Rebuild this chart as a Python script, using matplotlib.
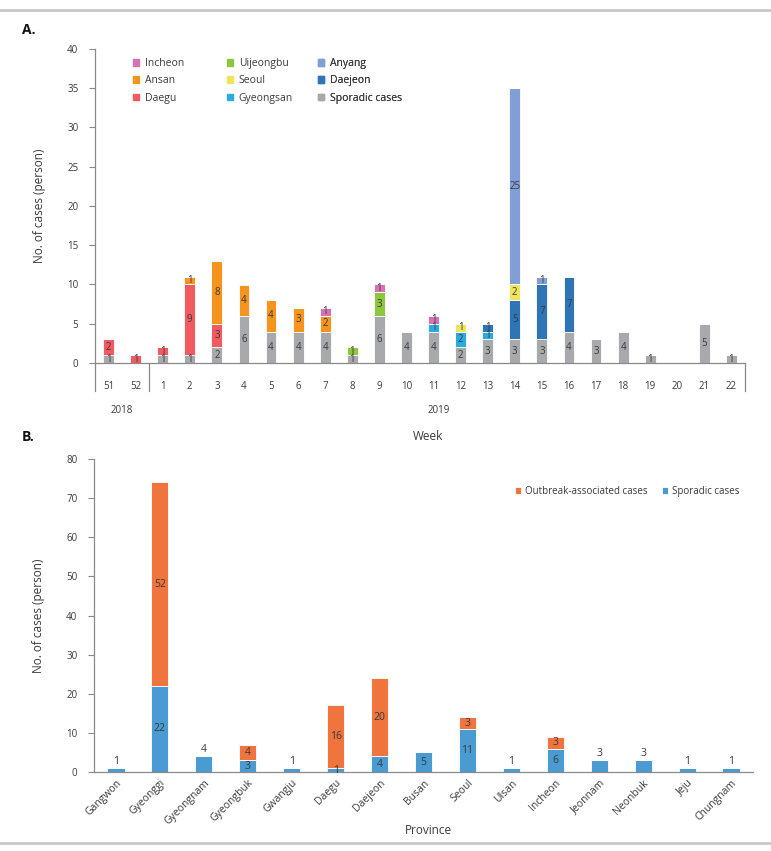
import matplotlib
matplotlib.use("Agg")
import matplotlib.pyplot as plt
import matplotlib.patches as mpatches
import matplotlib.transforms as mtransforms
from matplotlib.lines import Line2D
import numpy as np

plt.rcParams['font.family'] = ['Open Sans', 'DejaVu Sans']

# ---- panel A data: cases per week by outbreak cluster ----
weeks = ["51", "52"] + [str(i) for i in range(1, 23)]
sporadic = [1, 0, 1, 1, 2, 6, 4, 4, 4, 1, 6, 4, 4, 2, 3, 3, 3, 4, 3, 4, 1, 0, 5, 1]
daegu = [2, 1, 1, 9, 3, 0, 0, 0, 0, 0, 0, 0, 0, 0, 0, 0, 0, 0, 0, 0, 0, 0, 0, 0]
ansan = [0, 0, 0, 1, 8, 4, 4, 3, 2, 0, 0, 0, 0, 0, 0, 0, 0, 0, 0, 0, 0, 0, 0, 0]
uijeongbu = [0, 0, 0, 0, 0, 0, 0, 0, 0, 1, 3, 0, 0, 0, 0, 0, 0, 0, 0, 0, 0, 0, 0, 0]
gyeongsan = [0, 0, 0, 0, 0, 0, 0, 0, 0, 0, 0, 0, 1, 2, 1, 0, 0, 0, 0, 0, 0, 0, 0, 0]
daejeon = [0, 0, 0, 0, 0, 0, 0, 0, 0, 0, 0, 0, 0, 0, 1, 5, 7, 7, 0, 0, 0, 0, 0, 0]
seoul = [0, 0, 0, 0, 0, 0, 0, 0, 0, 0, 0, 0, 0, 1, 0, 2, 0, 0, 0, 0, 0, 0, 0, 0]
anyang = [0, 0, 0, 0, 0, 0, 0, 0, 0, 0, 0, 0, 0, 0, 0, 25, 1, 0, 0, 0, 0, 0, 0, 0]
incheon = [0, 0, 0, 0, 0, 0, 0, 0, 1, 0, 1, 0, 1, 0, 0, 0, 0, 0, 0, 0, 0, 0, 0, 0]

series_a = [
    ("Sporadic cases", sporadic, "#a7a9ac"),
    ("Daegu", daegu, "#f15a60"),
    ("Ansan", ansan, "#f7941d"),
    ("Uijeongbu", uijeongbu, "#8dc63f"),
    ("Gyeongsan", gyeongsan, "#29abe2"),
    ("Daejeon", daejeon, "#2e75b6"),
    ("Seoul", seoul, "#f2e45a"),
    ("Anyang", anyang, "#7f9fd6"),
    ("Incheon", incheon, "#d672b8"),
]

# ---- panel B data: cases per province ----
provinces = ["Gangwon", "Gyeonggi", "Gyeongnam", "Gyeongbuk", "Gwangju", "Daegu", "Daejeon",
             "Busan", "Seoul", "Ulsan", "Incheon", "Jeonnam", "Neonbuk", "Jeju", "Chungnam"]
prov_sporadic = [1, 22, 4, 3, 1, 1, 4, 5, 11, 1, 6, 3, 3, 1, 1]
prov_outbreak = [0, 52, 0, 4, 0, 16, 20, 0, 3, 0, 3, 0, 0, 0, 0]

TXT = "#3a3a3a"
SPINE = "#8a8a8a"

fig = plt.figure(figsize=(7.71, 8.51), dpi=100)
W, H = 771, 851

# separator lines at top and bottom of the figure
fig.add_artist(Line2D([0, 1], [1 - 10 / H, 1 - 10 / H], color="#c8c8c8", lw=2))
fig.add_artist(Line2D([0, 1], [1 - 843 / H, 1 - 843 / H], color="#c8c8c8", lw=2))

# ================= panel A =================
axA = fig.add_axes([95 / W, 1 - 363 / H, 650 / W, 314 / H])
x = np.arange(len(weeks))
bottom = np.zeros(len(weeks))
for name, vals, col in series_a:
    vals = np.array(vals)
    axA.bar(x, vals, 0.4, bottom=bottom, color=col, edgecolor="white", linewidth=0.6, zorder=2)
    for xi, v, b in zip(x, vals, bottom):
        if v > 0:
            axA.text(xi, b + v / 2, str(v), ha="center", va="center", fontsize=7, color=TXT, zorder=3)
    bottom += vals

axA.set_xlim(-0.5, len(weeks) - 0.5)
axA.set_ylim(0, 40)
axA.set_yticks(range(0, 41, 5))
axA.set_xticks(x)
axA.set_xticklabels(weeks)
axA.tick_params(axis="x", length=0, pad=13, labelsize=7, colors=TXT)
axA.tick_params(axis="y", length=4, width=0.8, color=SPINE, labelsize=7, labelcolor=TXT, pad=8)
for s in ["top", "right"]:
    axA.spines[s].set_visible(False)
axA.spines["left"].set_color(SPINE)
axA.spines["bottom"].set_color(SPINE)
axA.spines["left"].set_linewidth(0.9)
axA.spines["bottom"].set_linewidth(0.9)
axA.set_ylabel("No. of cases (person)", fontsize=8.5, color=TXT, labelpad=15)

# category box below the x axis
trans = mtransforms.blended_transform_factory(axA.transData, axA.transAxes)
for xv in [-0.5, 1.5, len(weeks) - 0.5]:
    axA.add_line(Line2D([xv, xv], [0, -0.09], transform=trans, color=SPINE, lw=0.9, clip_on=False))
axA.text(0.5, -0.15, "2018", transform=trans, ha="center", va="center", fontsize=7, color=TXT)
axA.text(12.2, -0.15, "2019", transform=trans, ha="center", va="center", fontsize=7, color=TXT)
fig.text(428 / W, 1 - 437 / H, "Week", ha="center", va="center", fontsize=8.5, color=TXT)

# legend in three columns, placed separately
lookup = {name: col for name, _, col in series_a}
legend_cols = [["Incheon", "Ansan", "Daegu"],
               ["Uijeongbu", "Seoul", "Gyeongsan"],
               ["Anyang", "Daejeon", "Sporadic cases"]]
for cx, names in zip([128, 222, 313], legend_cols):
    handles = [mpatches.Patch(color=lookup[n], label=n) for n in names]
    leg = axA.legend(handles=handles, loc="upper left", bbox_to_anchor=(cx / W, 1 - 53 / H),
                     bbox_transform=fig.transFigure, frameon=False, fontsize=7.5,
                     handlelength=0.6, handleheight=0.6, handletextpad=0.5,
                     labelspacing=0.6, borderpad=0, labelcolor=TXT)
    axA.add_artist(leg)

fig.text(22 / W, 1 - 30 / H, "A.", fontsize=10, fontweight="bold", ha="left", va="center", color="#111111")

# ================= panel B =================
axB = fig.add_axes([94 / W, 1 - 772 / H, 659 / W, 313 / H])
xb = np.arange(len(provinces))
sp = np.array(prov_sporadic)
ob = np.array(prov_outbreak)
axB.bar(xb, sp, 0.39, color="#4a9bd2", edgecolor="white", linewidth=0.6, label="Sporadic cases", zorder=2)
axB.bar(xb, ob, 0.39, bottom=sp, color="#f0743e", edgecolor="white", linewidth=0.6,
        label="Outbreak-associated cases", zorder=2)
for xi, s, o in zip(xb, sp, ob):
    if o == 0 and s <= 4:
        axB.text(xi, s + 0.3, str(s), ha="center", va="bottom", fontsize=7.5, color=TXT)
    else:
        axB.text(xi, s / 2, str(s), ha="center", va="center", fontsize=7.5, color=TXT)
    if o > 0:
        axB.text(xi, s + o / 2, str(o), ha="center", va="center", fontsize=7.5, color=TXT)

axB.set_xlim(-0.5, len(provinces) - 0.5)
axB.set_ylim(0, 80)
axB.set_yticks(range(0, 81, 10))
axB.set_xticks(xb)
axB.set_xticklabels(provinces, rotation=45, ha="right", rotation_mode="anchor")
axB.tick_params(axis="x", length=0, pad=4, labelsize=7.5, colors=TXT)
axB.tick_params(axis="y", length=4, width=0.8, color=SPINE, labelsize=7, labelcolor=TXT, pad=8)
for s in ["top", "right"]:
    axB.spines[s].set_visible(False)
axB.spines["left"].set_color(SPINE)
axB.spines["bottom"].set_color(SPINE)
axB.spines["left"].set_linewidth(0.9)
axB.spines["bottom"].set_linewidth(0.9)
axB.set_ylabel("No. of cases (person)", fontsize=8.5, color=TXT, labelpad=15)
fig.text(428 / W, 1 - 830 / H, "Province", ha="center", va="center", fontsize=8.5, color=TXT)

hb, lb = axB.get_legend_handles_labels()
axB.legend(hb[::-1], lb[::-1], loc="upper left", bbox_to_anchor=(510 / W, 1 - 481 / H),
           bbox_transform=fig.transFigure, ncol=2, frameon=False, fontsize=7,
           handlelength=0.6, handleheight=0.6, handletextpad=0.4, columnspacing=1.5,
           borderpad=0, labelcolor=TXT)

fig.text(22 / W, 1 - 437 / H, "B.", fontsize=10, fontweight="bold", ha="left", va="center", color="#111111")

fig.savefig("out.png", dpi=100)
